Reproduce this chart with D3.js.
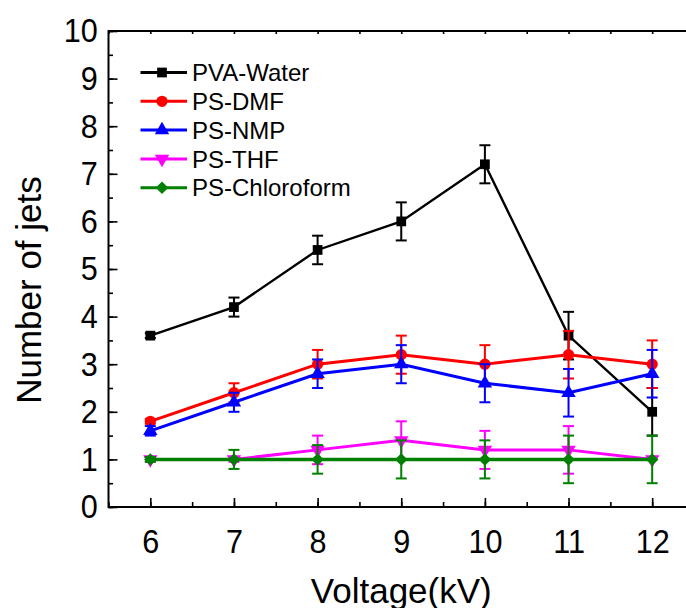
<!DOCTYPE html>
<html><head><meta charset="utf-8">
<script src="https://cdn.jsdelivr.net/npm/d3@7"></script>
<style>body{margin:0;background:#fff}svg{display:block}text{font-family:"Liberation Sans",Arial,sans-serif}</style>
</head><body>
<svg id="c" width="686" height="608"></svg>
<script>
const voltages = [6, 7, 8, 9, 10, 11, 12];
const seriesNames = ["PVA-Water", "PS-DMF", "PS-NMP", "PS-THF", "PS-Chloroform"];
const pvaWater = [3.6, 4.2, 5.4, 6.0, 7.2, 3.6, 2.0];
const pvaWaterErr = [0.05, 0.2, 0.3, 0.4, 0.4, 0.5, 0.5];
const psDmf = [1.8, 2.4, 3.0, 3.2, 3.0, 3.2, 3.0];
const psDmfErr = [0.05, 0.2, 0.3, 0.4, 0.4, 0.5, 0.5];
const psNmp = [1.6, 2.2, 2.8, 3.0, 2.6, 2.4, 2.8];
const psNmpErr = [0.1, 0.2, 0.3, 0.4, 0.4, 0.5, 0.5];
const psThf = [1.0, 1.0, 1.2, 1.4, 1.2, 1.2, 1.0];
const psThfErr = [0.05, 0.05, 0.3, 0.4, 0.4, 0.5, 0];
const psChloroform = [1.0, 1.0, 1.0, 1.0, 1.0, 1.0, 1.0];
const psChloroformErr = [0.05, 0.2, 0.3, 0.4, 0.4, 0.5, 0.5];
const xTicks = [6, 7, 8, 9, 10, 11, 12];
const yTicks = [0, 1, 2, 3, 4, 5, 6, 7, 8, 9, 10];

const styles = [
  {color: "#000000", sym: d3.symbolSquare, size: 95, lw: 2.4},
  {color: "#ff0000", sym: d3.symbolCircle, size: 100, lw: 3},
  {color: "#0000ff", sym: d3.symbolTriangle, size: 90, lw: 3},
  {color: "#ff00ff", sym: d3.symbolTriangle, size: 90, lw: 3, rot: 180},
  {color: "#008000", sym: d3.symbolSquare, size: 78, lw: 3.5, rot: 45}
];
const data = [
  [pvaWater, pvaWaterErr], [psDmf, psDmfErr], [psNmp, psNmpErr],
  [psThf, psThfErr], [psChloroform, psChloroformErr]
];

const svg = d3.select("#c");
const L = 108.5, R = 694, T = 31, B = 507;
const x = d3.scaleLinear().domain([5.5, 12.5]).range([L, R]);
const y = d3.scaleLinear().domain([0, 10]).range([B, T]);

// axes
const minorX = d3.range(5.5, 12.51, 0.5);
const minorY = d3.range(0, 10.01, 0.5);
const ax = svg.append("g");
ax.append("g").attr("transform", `translate(0,${B})`)
  .call(d3.axisBottom(x).tickValues(minorX).tickSize(-5).tickFormat(""))
  .call(g => g.select(".domain").remove());
ax.append("g").attr("transform", `translate(0,${B})`)
  .call(d3.axisBottom(x).tickValues(xTicks).tickSize(-9).tickPadding(22).tickFormat(d3.format("d")))
  .call(g => g.select(".domain").remove())
  .call(g => g.selectAll("text").attr("font-size", 34).attr("fill", "#000").attr("dy", "0.71em")
    .attr("transform", "scale(0.9,1)"));
ax.append("g").attr("transform", `translate(0,${T})`)
  .call(d3.axisTop(x).tickValues(minorX).tickSize(-3).tickFormat(""))
  .call(g => g.select(".domain").remove());
ax.append("g").attr("transform", `translate(${L},0)`)
  .call(d3.axisLeft(y).tickValues(minorY).tickSize(-4.5).tickFormat(""))
  .call(g => g.select(".domain").remove());
ax.append("g").attr("transform", `translate(${L},0)`)
  .call(d3.axisLeft(y).tickValues(yTicks).tickSize(-9).tickPadding(12).tickFormat(d3.format("d")))
  .call(g => g.select(".domain").remove())
  .call(g => g.selectAll("text").attr("font-size", 34).attr("fill", "#000")
    .attr("transform", "scale(0.9,1)"));
ax.selectAll(".tick line").attr("stroke", "#000").attr("stroke-width", 1.6);
ax.append("rect").attr("x", L).attr("y", T).attr("width", R - L).attr("height", B - T)
  .attr("fill", "none").attr("stroke", "#000").attr("stroke-width", 2);

// titles
svg.append("text").attr("x", (L + R) / 2).attr("y", 603).attr("text-anchor", "middle")
  .attr("font-size", 35).text("Voltage(kV)");
svg.append("text").attr("transform", "translate(41,290) rotate(-90)").attr("text-anchor", "middle")
  .attr("font-size", 35).text("Number of jets");

// series
const line = d3.line().x((d, i) => x(voltages[i])).y(d => y(d));
data.forEach(([vals, errs], si) => {
  const st = styles[si];
  const g = svg.append("g");
  g.append("path").attr("d", line(vals)).attr("fill", "none").attr("stroke", st.color)
    .attr("stroke-width", st.lw).attr("stroke-linejoin", "miter");
  vals.forEach((v, i) => {
    const e = errs[i];
    if (e <= 0) return;
    const cx = x(voltages[i]);
    const eg = g.append("g").attr("stroke", st.color).attr("stroke-width", 2);
    eg.append("line").attr("x1", cx).attr("x2", cx).attr("y1", y(v - e)).attr("y2", y(v + e));
    eg.append("line").attr("x1", cx - 5.5).attr("x2", cx + 5.5).attr("y1", y(v - e)).attr("y2", y(v - e));
    eg.append("line").attr("x1", cx - 5.5).attr("x2", cx + 5.5).attr("y1", y(v + e)).attr("y2", y(v + e));
  });
  g.selectAll("path.m").data(vals).join("path").attr("class", "m")
    .attr("d", d3.symbol().type(st.sym).size(st.size))
    .attr("transform", (d, i) => `translate(${x(voltages[i])},${y(d)}) rotate(${st.rot || 0})`)
    .attr("fill", st.color);
});

// legend
const lg = svg.append("g");
seriesNames.forEach((name, i) => {
  const st = styles[i];
  const ly = 72.5 + i * 28.8;
  lg.append("line").attr("x1", 140.5).attr("x2", 187).attr("y1", ly).attr("y2", ly)
    .attr("stroke", st.color).attr("stroke-width", 3);
  lg.append("path").attr("d", d3.symbol().type(st.sym).size(st.size)())
    .attr("transform", `translate(162,${ly}) rotate(${st.rot || 0})`).attr("fill", st.color);
  lg.append("text").attr("x", 192).attr("y", ly).attr("dy", "0.36em").attr("font-size", 24).text(name);
});
</script>
</body></html>
